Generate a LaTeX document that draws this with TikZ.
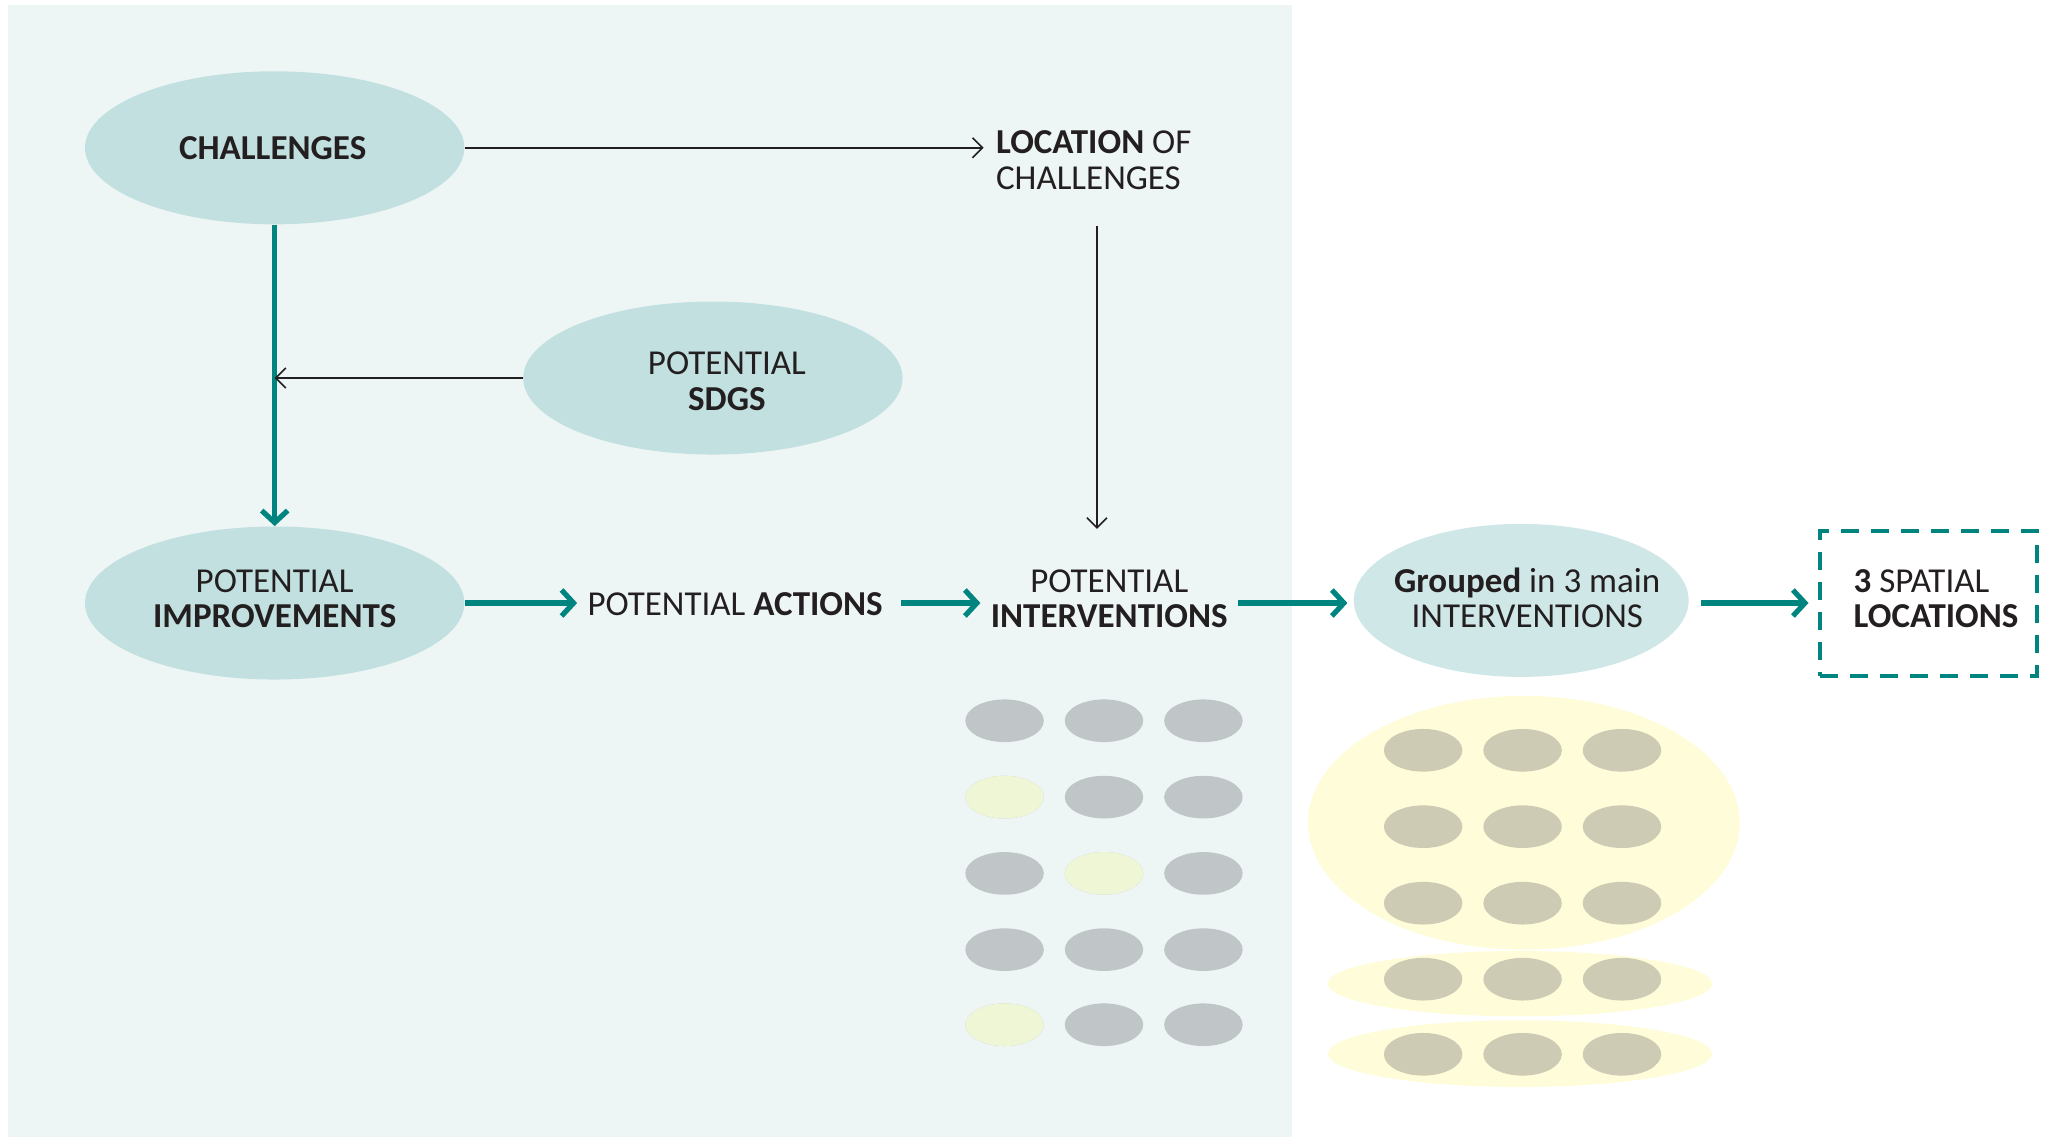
\documentclass[tikz,border=0pt]{standalone}
\usepackage{fontspec}
\setmainfont{Carlito}
\usetikzlibrary{arrows.meta,shapes.geometric,calc}
\definecolor{panel}{HTML}{EDF6F5}
\definecolor{bubble}{HTML}{C2E0E0}
\definecolor{bubbletwo}{HTML}{CFE7E7}
\definecolor{tealc}{HTML}{00847F}
\definecolor{txt}{HTML}{231F20}
\definecolor{greydot}{HTML}{C0C5C7}
\definecolor{greendot}{HTML}{EFF6D5}
\definecolor{yel}{HTML}{FEFCD9}
\definecolor{olivedot}{HTML}{CDCBB4}
\begin{document}
\begin{tikzpicture}[x=0.654pt,y=-0.654pt,
  every node/.style={font=\fontsize{17.5}{17.66}\selectfont, text=txt},
  bub/.style={ellipse, fill=bubble, inner sep=0pt,
    minimum width=290*0.654pt, minimum height=117*0.654pt},
  intext/.style={inner sep=0pt, align=center},
  lbl/.style={inner ysep=0pt, inner xsep=6pt, align=center},
  tealarrow/.style={draw=tealc, line width=2.6pt, -{Straight Barb[length=6pt,width=13pt]}},
  thinarrow/.style={draw=txt, line width=0.8pt, -{Straight Barb[length=5pt,width=10pt]}},
  dashbox/.style={draw=tealc, line width=2pt, dash pattern=on 9pt off 6pt,
    minimum width=166*0.654pt, minimum height=111*0.654pt, inner sep=0pt},
]
\useasboundingbox (0,0) rectangle (1568,870);
\fill[panel] (6,4) rectangle (988,869);

% dots in panel
\foreach \x in {768,844,920}
  \foreach \y in {551,609.4,667.7,726,783.4}
    \fill[greydot] (\x,\y) ellipse [x radius=30, y radius=16.3];
\foreach \p in {(768,609.4),(844,667.7),(768,783.4)}
  \fill[greendot] \p ellipse [x radius=30, y radius=16.3];

% yellow groups
\fill[yel] (1165,629) ellipse [x radius=165, y radius=97];
\fill[yel] (1162,752) ellipse [x radius=147, y radius=25];
\fill[yel] (1162,805.5) ellipse [x radius=147, y radius=25.5];
\foreach \x in {1088,1164,1240}
  \foreach \y in {573.6,632,690.5,748.6,806}
    \fill[olivedot] (\x,\y) ellipse [x radius=30, y radius=16.3];

% nodes
\node[bub, label={[intext, xshift=-1pt]center:\textbf{CHALLENGES}}] (chal) at (210,113) {};
\node[bub, label={[intext, xshift=7pt, yshift=-1.6pt]center:{POTENTIAL\\\textbf{SDGS}}}] (sdgs) at (545,289) {};
\node[bub, label={[intext, yshift=2.2pt]center:{POTENTIAL\\\textbf{IMPROVEMENTS}}}] (impr) at (210,461) {};
\node[lbl, align=left, anchor=west] (loc) at (752,122.5) {\textbf{LOCATION} OF\\CHALLENGES};
\node[lbl, inner xsep=5pt] (act) at (562,462) {POTENTIAL \textbf{ACTIONS}};
\node[lbl, inner xsep=5pt] (inter) at (848,457.5) {POTENTIAL\\\textbf{INTERVENTIONS}};
\node[bub, fill=bubbletwo, minimum width=256*0.654pt,
  label={[intext, xshift=3pt, yshift=1.3pt]center:{\textbf{Grouped} in 3 main\\INTERVENTIONS}}] (grp) at (1163,459) {};
\node[dashbox, label={[intext, align=left, xshift=4pt, yshift=2.6pt]center:{\textbf{3} SPATIAL\\\textbf{LOCATIONS}}}] (spat) at (1474,461.5) {};

% connectors
\draw[thinarrow] (chal.east) -- (loc.west |- chal.east);
\draw[thinarrow, shorten <=18pt, shorten >=20pt] ([xshift=1.6pt]loc.south) -- ([xshift=1.6pt]loc.south |- inter.north);
\draw[tealarrow] (chal.south) -- (impr.north);
\draw[thinarrow] (sdgs.west) -- (chal.south |- sdgs.west);
\draw[tealarrow] (impr.east) -- (act.west |- impr.east);
\draw[tealarrow, shorten <=4pt] (act.east |- impr.east) -- (inter.west |- impr.east);
\draw[tealarrow, shorten >=3pt] (inter.east |- impr.east) -- (grp.west |- impr.east);
\draw[tealarrow, shorten <=6pt, shorten >=4.5pt] (grp.east |- impr.east) -- (spat.west |- impr.east);
\end{tikzpicture}
\end{document}
